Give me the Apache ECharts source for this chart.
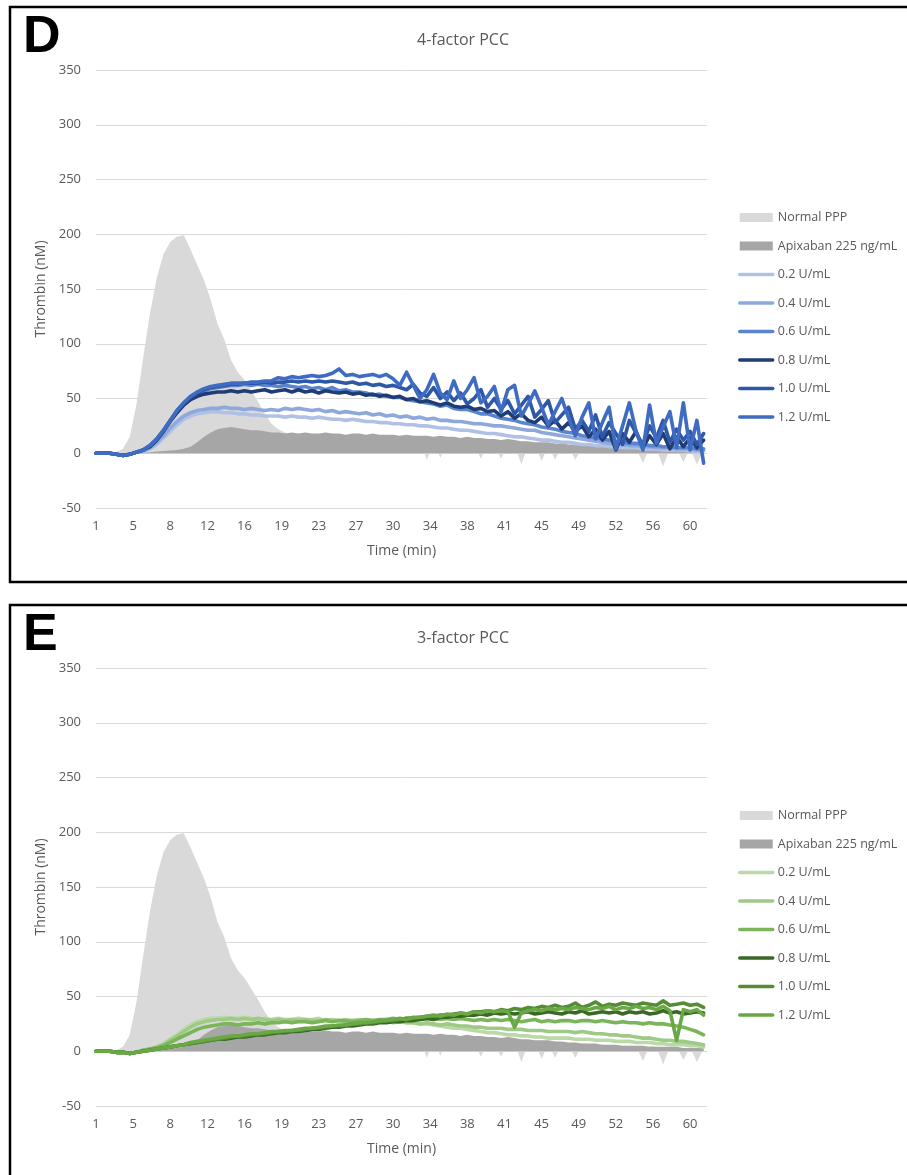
<!DOCTYPE html>
<html>
<head>
<meta charset="utf-8">
<script src="https://cdn.jsdelivr.net/npm/echarts@6/dist/echarts.min.js"></script>
<style>
  html, body { margin: 0; padding: 0; background: #fff; overflow: hidden; width: 907px; height: 1175px; }
  .panel { position: absolute; left: 0; width: 907px; height: 597px; }
  #panelD { top: 0; }
  #panelE { top: 598px; }
</style>
</head>
<body>
<div id="panelD" class="panel"></div>
<div id="panelE" class="panel"></div>
<script>
// Readings every 40 s, starting at minute 1
const T_START = 1;
const T_STEP = 2 / 3;
const T_MAX = 1 + 181 / 3;

// Category-style time labels (every 11th 20-s reading)
const xTickLabels = ['1', '5', '8', '12', '16', '19', '23', '27', '30', '34', '38', '41', '45', '49', '52', '56', '60'];
const xTickSpacing = 11 / 3;

const seriesNames = ['Normal PPP', 'Apixaban 225 ng/mL', '0.2 U/mL', '0.4 U/mL', '0.6 U/mL', '0.8 U/mL', '1.0 U/mL', '1.2 U/mL'];

// Thrombin (nM) – shared controls
const normalPPP = [
  0, 0, 0, 1, 4, 15, 45, 88, 128, 160,
  182, 193, 198, 199, 186, 172, 158, 140, 118, 104,
  85, 74, 67, 57, 47, 36, 27, 22, 19, 17,
  16, 15, 16, 15, 14, 15, 14, 14, 13, 14,
  13, 13, 12, 13, 12, 12, 11, 12, 11, -6,
  11, -4, 10, 10, 9, 10, 9, -5, 9, 8,
  -5, 8, 8, -10, 7, 8, -7, 7, -6, 7,
  6, -6, 6, 6, 5, 6, 5, 5, 5, 5,
  5, -9, 5, 4, -12, 4, 4, -8, 4, -10,
  3
];
const apixaban = [
  0, 0, 0, 0, 0, 0, 0, 0.5, 1, 1.5,
  2, 2.5, 3, 4, 6, 10, 15, 19, 22, 23,
  24, 23, 22, 21, 21, 20, 19, 19, 18, 19,
  18, 19, 18, 18, 19, 18, 18, 17, 18, 18,
  17, 18, 17, 17, 17, 16, 17, 16, 16, 16,
  15, 16, 15, 15, 14, 15, 14, 14, 13, 13,
  12, 13, 12, 11, 11, 10, 10, 10, 9, 9,
  8, 8, 7, 7, 7, 6, 6, 6, 5, 5,
  5, 5, 4, 4, 4, 4, 4, 3, 3, 3,
  3
];

// 4-factor PCC
const pcc4_02 = [
  0, 0, 0, -1, -2, -1, 1, 2, 4, 8,
  14, 20, 26, 31, 34, 36, 37, 38, 38, 37,
  37, 36, 36, 35, 35, 34, 34, 34, 33, 34,
  33, 33, 32, 33, 32, 31, 31, 30, 31, 30,
  29, 29, 28, 28, 27, 27, 26, 26, 25, 25,
  24, 23, 23, 22, 21, 21, 20, 19, 18, 18,
  17, 16, 15, 15, 14, 13, 12, 12, 11, 10,
  10, 9, 8, 8, 7, 7, 6, 6, 5, 5,
  5, 4, 4, 4, 3, 3, 3, 3, 2, 2,
  2
];
const pcc4_04 = [
  0, 0, 0, -1, -2, -1, 1, 2, 5, 10,
  16, 23, 29, 34, 37, 39, 40, 41, 41, 42,
  41, 41, 40, 41, 40, 39, 40, 39, 41, 40,
  41, 40, 39, 40, 38, 39, 37, 38, 37, 36,
  37, 35, 36, 34, 35, 33, 34, 32, 33, 31,
  32, 30, 30, 29, 29, 28, 27, 27, 26, 25,
  25, 24, 23, 22, 21, 21, 19, 18, 17, 16,
  15, 14, 13, 12, 11, 10, 9, 9, 8, 7,
  7, 6, 6, 5, 5, 5, 4, 4, 4, 3,
  3
];
const pcc4_06 = [
  0, 0, 0, -1, -2, -1, 1, 3, 7, 13,
  21, 30, 38, 45, 50, 54, 57, 59, 60, 61,
  62, 62, 63, 62, 63, 62, 62, 61, 62, 61,
  60, 61, 59, 60, 58, 60, 57, 58, 56, 56,
  55, 53, 54, 52, 51, 51, 49, 48, 47, 46,
  45, 43, 44, 41, 40, 40, 38, 36, 36, 34,
  32, 31, 30, 28, 27, 26, 24, 23, 22, 20,
  19, 18, 16, 15, 14, 13, 12, 11, 10, 9,
  9, 8, 7, 7, 6, 6, 5, 5, 5, 4,
  4
];
const pcc4_08 = [
  0, 0, 0, -1, -2, -1, 1, 3, 6, 12,
  20, 29, 37, 44, 49, 52, 54, 55, 56, 56,
  57, 56, 57, 56, 57, 58, 56, 57, 58, 56,
  58, 56, 57, 55, 57, 56, 55, 56, 54, 55,
  53, 54, 52, 53, 51, 52, 49, 50, 47, 48,
  46, 44, 46, 43, 42, 43, 40, 41, 38, 39,
  34, 38, 32, 36, 30, 28, 33, 25, 30, 22,
  28, 20, 25, 15, 22, 12, 20, 3, 18, 10,
  20, 5, 16, 8, 18, 4, 15, 6, 14, 5,
  12
];
const pcc4_10 = [
  0, 0, 0, -1, -2, -1, 1, 3, 7, 13,
  21, 30, 39, 46, 51, 55, 58, 60, 61, 62,
  63, 63, 64, 64, 64, 65, 64, 65, 65, 66,
  65, 66, 65, 66, 65, 66, 65, 64, 65, 63,
  64, 62, 63, 61, 62, 60, 58, 63, 55, 52,
  60, 50, 56, 48, 55, 45, 50, 58, 42, 50,
  40, 48, 36, 44, 52, 33, 40, 48, 28, 35,
  42, 22, 30, 20, 35, 15, 28, 18, 8, 30,
  18, 8, 25, 14, 30, 10, 22, 12, 20, 8,
  18
];
const pcc4_12 = [
  0, 0, 0, -1, -2, -1, 1, 3, 7, 13,
  21, 30, 39, 46, 52, 56, 59, 61, 62, 63,
  64, 64, 64, 65, 65, 66, 66, 69, 68, 70,
  69, 70, 71, 70, 71, 73, 77, 71, 72, 70,
  71, 72, 70, 72, 68, 62, 74, 62, 50, 58,
  72, 55, 49, 66, 50, 58, 69, 46, 52, 61,
  38, 58, 62, 34, 45, 57, 42, 26, 38, 50,
  32, 16, 33, 46, 13, 28, 42, 4, 25, 46,
  20, 3, 44, 9, 24, 38, 5, 46, 3, 30,
  -9
];

// 3-factor PCC
const pcc3_02 = [
  0, 0, 0, -1, -1, -2, -1, 1, 2, 4,
  7, 11, 15, 20, 24, 27, 29, 30, 30, 31,
  30, 30, 31, 30, 29, 30, 29, 30, 29, 29,
  30, 29, 29, 30, 28, 29, 28, 29, 28, 29,
  28, 28, 27, 28, 27, 27, 26, 26, 25, 25,
  24, 23, 22, 21, 21, 20, 19, 18, 17, 17,
  16, 15, 15, 14, 14, 13, 13, 12, 12, 12,
  12, 11, 11, 11, 10, 10, 10, 9, 9, 9,
  8, 8, 8, 7, 7, 6, 6, 6, 5, 5,
  4
];
const pcc3_04 = [
  0, 0, 0, -1, -1, -2, -1, 1, 2, 4,
  6, 10, 14, 18, 22, 25, 27, 28, 29, 29,
  30, 29, 30, 29, 30, 29, 28, 29, 28, 29,
  28, 29, 28, 28, 29, 28, 28, 27, 28, 28,
  27, 28, 27, 27, 26, 27, 26, 26, 25, 26,
  25, 24, 25, 24, 23, 23, 22, 22, 21, 21,
  21, 20, 20, 20, 19, 19, 19, 18, 18, 18,
  18, 17, 18, 17, 16, 16, 15, 15, 14, 14,
  13, 12, 12, 11, 10, 10, 9, 9, 8, 7,
  6
];
const pcc3_06 = [
  0, 0, 0, -1, -1, -2, -1, 1, 2, 3,
  5, 8, 11, 14, 17, 20, 22, 23, 24, 25,
  25, 24, 25, 25, 26, 25, 26, 26, 27, 26,
  27, 27, 26, 27, 28, 27, 28, 28, 27, 28,
  29, 28, 29, 29, 30, 29, 30, 30, 29, 30,
  30, 29, 30, 29, 30, 29, 28, 29, 28, 29,
  28, 29, 28, 27, 28, 29, 27, 28, 27, 28,
  28, 27, 28, 28, 27, 28, 27, 26, 27, 26,
  26, 25, 26, 25, 25, 24, 23, 22, 20, 18,
  15
];
const pcc3_08 = [
  0, 0, 0, -1, -1, -2, -1, 0, 1, 2,
  3, 4, 5, 6, 7, 8, 9, 10, 11, 11,
  12, 13, 13, 14, 15, 15, 16, 17, 17, 18,
  18, 19, 20, 20, 21, 22, 22, 23, 23, 24,
  25, 25, 26, 26, 27, 27, 28, 28, 29, 30,
  29, 31, 31, 32, 32, 33, 33, 34, 33, 35,
  34, 35, 34, 35, 36, 34, 35, 36, 35, 34,
  36, 35, 37, 34, 35, 36, 35, 36, 34, 36,
  35, 36, 34, 35, 37, 35, 36, 34, 35, 36,
  35
];
const pcc3_10 = [
  0, 0, 0, -1, -1, -2, -1, 0, 1, 2,
  3, 4, 5, 6, 7, 8, 9, 10, 11, 12,
  13, 14, 14, 15, 16, 16, 17, 18, 18, 19,
  19, 20, 21, 21, 22, 23, 23, 24, 25, 25,
  26, 26, 27, 28, 28, 29, 30, 30, 31, 32,
  32, 33, 33, 34, 35, 34, 36, 36, 37, 36,
  38, 37, 39, 38, 40, 39, 41, 40, 42, 40,
  41, 44, 40, 42, 45, 41, 43, 42, 44, 43,
  42, 44, 43, 42, 46, 42, 43, 44, 42, 43,
  40
];
const pcc3_12 = [
  0, 0, 0, -1, -1, -2, -1, 0, 1, 2,
  3, 4, 5, 6, 8, 9, 10, 11, 12, 13,
  14, 14, 15, 16, 16, 17, 18, 18, 19, 19,
  20, 21, 21, 22, 23, 23, 24, 24, 25, 26,
  26, 27, 28, 28, 29, 30, 29, 31, 31, 32,
  33, 32, 34, 33, 35, 34, 36, 35, 37, 36,
  37, 36, 22, 35, 37, 38, 37, 39, 38, 39,
  38, 40, 39, 38, 40, 39, 41, 38, 40, 39,
  41, 39, 40, 38, 41, 37, 10, 38, 36, 38,
  33
];

const panelD = {
  letter: 'D',
  title: '4-factor PCC',
  lines: [pcc4_02, pcc4_04, pcc4_06, pcc4_08, pcc4_10, pcc4_12],
  colors: ['#b1c1e6', '#8fa8dc', '#5b84d0', '#1f3c74', '#2d58a8', '#3f6cc2']
};
const panelE = {
  letter: 'E',
  title: '3-factor PCC',
  lines: [pcc3_02, pcc3_04, pcc3_06, pcc3_08, pcc3_10, pcc3_12],
  colors: ['#b9d9a6', '#9fca86', '#7ab55a', '#3b6826', '#558c36', '#69a844']
};

const AREA_COLORS = ['#d9d9d9', '#a6a6a6'];
const TEXT_COLOR = '#595959';
const FONT = '"Open Sans", "Liberation Sans", sans-serif';
const LINE_WIDTH = 3.6;

function toPoints(values) {
  return values.map((v, i) => [T_START + i * T_STEP, v]);
}

function buildPanel(el, spec) {
  const chart = echarts.init(el, null, { renderer: 'canvas' });
  const series = [];
  [normalPPP, apixaban].forEach((vals, i) => {
    series.push({
      name: seriesNames[i],
      type: 'line',
      data: toPoints(vals),
      showSymbol: false,
      symbol: 'none',
      color: AREA_COLORS[i],
      lineStyle: { width: 0 },
      areaStyle: { color: AREA_COLORS[i], opacity: 1 },
      silent: true
    });
  });
  spec.lines.forEach((vals, i) => {
    series.push({
      name: seriesNames[i + 2],
      type: 'line',
      data: toPoints(vals),
      showSymbol: false,
      symbol: 'none',
      color: spec.colors[i],
      lineStyle: { width: LINE_WIDTH, color: spec.colors[i], cap: 'round', join: 'round' },
      silent: true
    });
  });

  // area entries get a filled block, line entries a plain stroke (no marker)
  const legendData = seriesNames.map((n, i) =>
    i < 2 ? { name: n, icon: 'rect' } : { name: n, itemStyle: { opacity: 0 }, lineStyle: { width: 3.5, cap: 'round' } }
  );
  const tickValues = xTickLabels.map((_, i) => T_START + i * xTickSpacing);

  chart.setOption({
    animation: false,
    textStyle: { fontFamily: FONT },
    graphic: [
      {
        type: 'rect',
        shape: { x: 10, y: 7, width: 1000, height: spec.letter === 'D' ? 575 : 800 },
        style: { fill: 'none', stroke: '#000', lineWidth: 2.5 },
        silent: true
      },
      {
        type: 'text',
        style: {
          text: spec.letter, x: 23, y: 38,
          font: 'bold 52px "Liberation Sans", Arial, sans-serif',
          fill: '#000', verticalAlign: 'middle'
        },
        silent: true
      }
    ],
    title: {
      text: spec.title,
      left: 458, top: 27,
      textAlign: 'center',
      textStyle: { color: TEXT_COLOR, fontSize: 16, fontWeight: 'normal', fontFamily: FONT }
    },
    legend: {
      orient: 'vertical',
      left: 733, top: 206,
      itemWidth: 33, itemHeight: 9, itemGap: 15.5,
      data: legendData,
      selectedMode: false,
      textStyle: { color: TEXT_COLOR, fontSize: 12.5, fontFamily: FONT }
    },
    grid: { left: 96, top: 70, width: 611, height: 438 },
    xAxis: {
      type: 'value',
      min: T_START, max: T_MAX,
      name: 'Time (min)',
      nameLocation: 'middle',
      nameGap: 36,
      nameTextStyle: { color: TEXT_COLOR, fontSize: 14, fontFamily: FONT },
      axisLine: { show: false },
      axisTick: { show: false },
      splitLine: { show: false },
      axisLabel: {
        customValues: tickValues,
        color: TEXT_COLOR, fontSize: 13, margin: 12, fontFamily: FONT,
        formatter: (v) => {
          const idx = Math.round((v - T_START) / xTickSpacing);
          return xTickLabels[idx] !== undefined ? xTickLabels[idx] : '';
        }
      }
    },
    yAxis: {
      type: 'value',
      min: -50, max: 350, interval: 50,
      name: 'Thrombin (nM)',
      nameLocation: 'middle',
      nameGap: 42,
      nameTextStyle: { color: TEXT_COLOR, fontSize: 14, fontFamily: FONT },
      axisLine: { show: false },
      axisTick: { show: false },
      axisLabel: { color: TEXT_COLOR, fontSize: 13, margin: 15, fontFamily: FONT },
      splitLine: { lineStyle: { color: '#d9d9d9', width: 1 } }
    },
    series: series
  });
  return chart;
}

buildPanel(document.getElementById('panelD'), panelD);
buildPanel(document.getElementById('panelE'), panelE);
</script>
</body>
</html>
